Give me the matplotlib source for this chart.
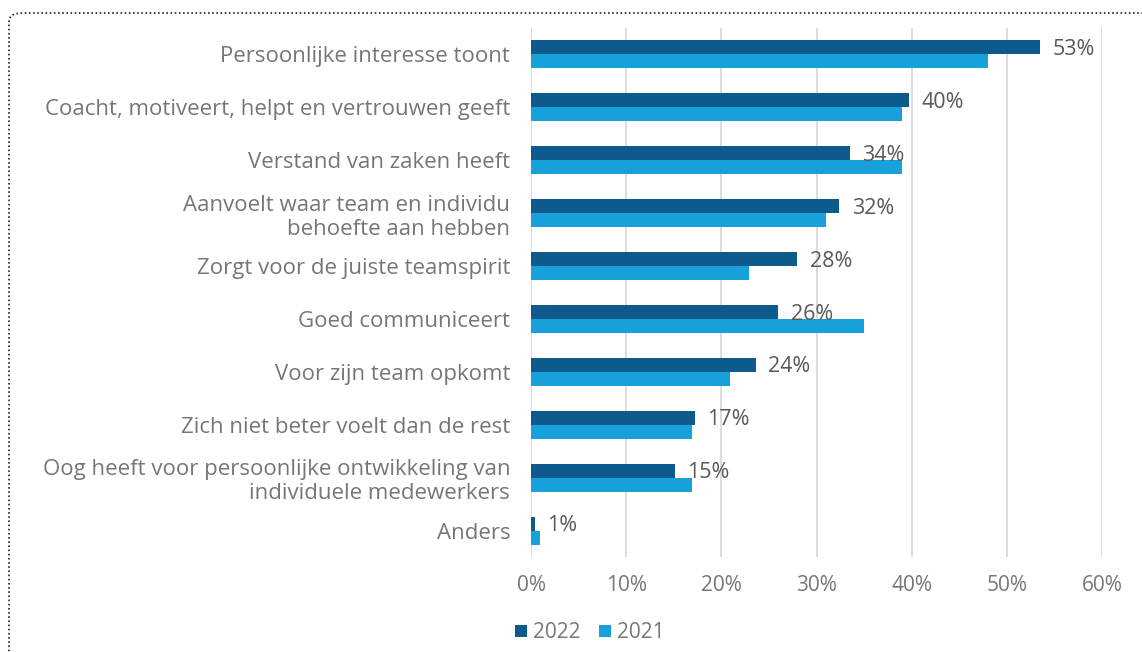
import matplotlib
matplotlib.use("Agg")
import matplotlib.pyplot as plt
from matplotlib.patches import FancyBboxPatch

categories = [
    "Persoonlijke interesse toont",
    "Coacht, motiveert, helpt en vertrouwen geeft",
    "Verstand van zaken heeft",
    "Aanvoelt waar team en individu\nbehoefte aan hebben",
    "Zorgt voor de juiste teamspirit",
    "Goed communiceert",
    "Voor zijn team opkomt",
    "Zich niet beter voelt dan de rest",
    "Oog heeft voor persoonlijke ontwikkeling van\nindividuele medewerkers",
    "Anders",
]
values_2022 = [53.5, 39.7, 33.5, 32.4, 28.0, 26.0, 23.6, 17.2, 15.1, 0.4]
values_2021 = [48.0, 39.0, 39.0, 31.0, 22.9, 35.0, 20.9, 16.9, 16.9, 0.9]
labels_2022 = ["53%", "40%", "34%", "32%", "28%", "26%", "24%", "17%", "15%", "1%"]
xticks = [0, 10, 20, 30, 40, 50, 60]

dark = "#0F5A8C"
light = "#17A0DA"
grey = "#767676"
dgrey = "#595959"

plt.rcParams["font.family"] = ["Open Sans", "DejaVu Sans"]

fig = plt.figure(figsize=(11.42, 6.52), dpi=100)
ax = fig.add_axes([531 / 1142, 1 - 557 / 652, (1102 - 531) / 1142, (557 - 28) / 652])

h = 0.265
y = list(range(len(categories)))
ax.barh([i - h / 2 for i in y], values_2022, height=h, color=dark, label="2022")
ax.barh([i + h / 2 for i in y], values_2021, height=h, color=light, label="2021")

# data labels only for 2022, like in the original
for i, (v, lab) in enumerate(zip(values_2022, labels_2022)):
    ax.text(v + 1.3, i - h / 2 + 0.04, lab, va="center", ha="left", fontsize=15.5, color=dgrey)

ax.set_xlim(0, 60)
ax.set_ylim(len(categories) - 0.5, -0.5)
ax.set_xticks(xticks)
ax.set_xticklabels([f"{t}%" for t in xticks], fontsize=15, color=grey)
ax.set_yticks(y)
ax.set_yticklabels(categories, fontsize=16, color=grey, linespacing=1.2)
ax.tick_params(axis="both", length=0)
ax.tick_params(axis="y", pad=15)
ax.tick_params(axis="x", pad=13)
ax.grid(axis="x", color="#D9D9D9", linewidth=1.3)
ax.set_axisbelow(True)
for s in ax.spines.values():
    s.set_visible(False)

leg = fig.legend(loc="center left", bbox_to_anchor=(507 / 1142, 1 - 633 / 652), ncol=2,
                 frameon=False, fontsize=15, handlelength=0.55, handleheight=0.55,
                 handletextpad=0.3, columnspacing=0.9, labelcolor=grey, borderaxespad=0)

border = FancyBboxPatch((9 / 1142, -0.2), 1.2, (1 - 13 / 652) + 0.2,
                        boxstyle="round,pad=0,rounding_size=0.012",
                        transform=fig.transFigure, fill=False, edgecolor="#222222",
                        linestyle=(0, (1, 1.5)), linewidth=1.2, clip_on=False)
fig.patches.append(border)

fig.savefig("out.png", dpi=100)
